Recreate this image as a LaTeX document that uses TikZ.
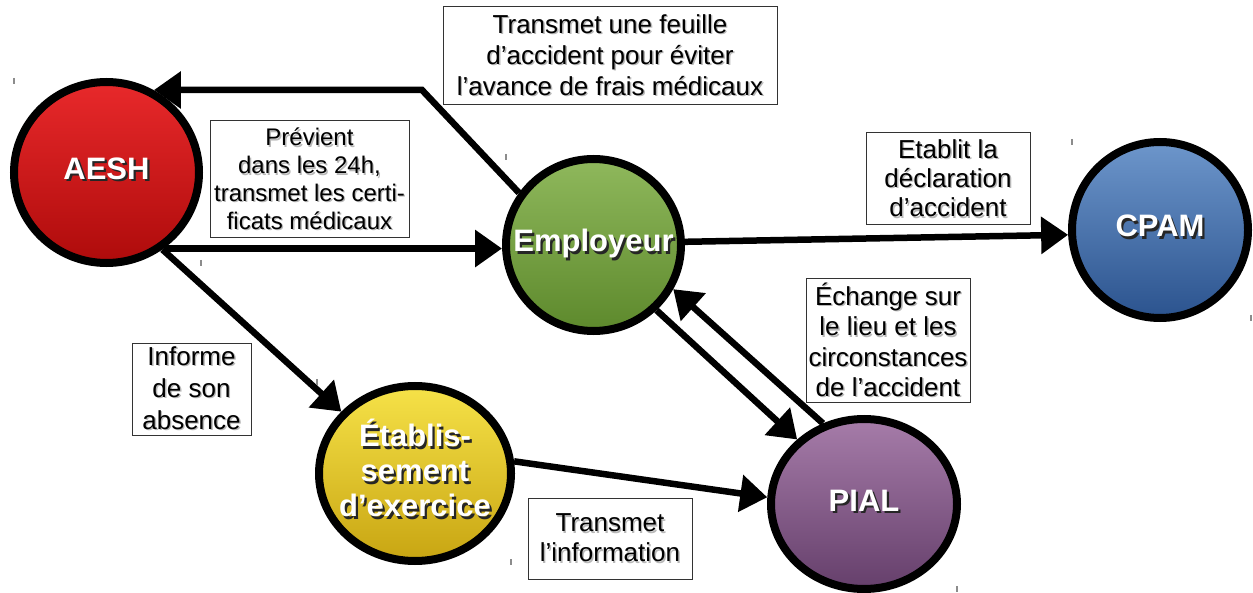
\documentclass[tikz,border=0pt]{standalone}
\usepackage{fontspec}
\setmainfont{Liberation Sans}
\usetikzlibrary{shapes.geometric,arrows.meta}
\definecolor{aeshA}{HTML}{E8292B}\definecolor{aeshB}{HTML}{AE0B0B}
\definecolor{empA}{HTML}{8FB85C}\definecolor{empB}{HTML}{5D892C}
\definecolor{cpamA}{HTML}{6D96CB}\definecolor{cpamB}{HTML}{2B538E}
\definecolor{etabA}{HTML}{F6E248}\definecolor{etabB}{HTML}{C8A512}
\definecolor{pialA}{HTML}{A67CA9}\definecolor{pialB}{HTML}{653F6B}
\newcommand\lsh[1]{\rlap{\kern0.7pt\raisebox{-0.7pt}{\color{black!28}#1}}#1}
\newcommand\csh[1]{\rlap{\kern1.1pt\raisebox{-1.1pt}{\color{black!85}#1}}#1}
\newcommand\ctext[1]{\makebox[0pt]{\begin{tabular}{@{}c@{}}#1\end{tabular}}}
\begin{document}
\begin{tikzpicture}[x=0.5pt,y=-0.5pt,
  circ/.style={ellipse, draw=black, line width=4pt, inner sep=0pt,
    shading=axis, shading angle=45, text=white,
    font=\bfseries\fontsize{15.5}{17.5}\selectfont},
  lbox/.style={draw=black!80, line width=0.5pt, fill=white, inner sep=0pt,
    align=center, font=\fontsize{13}{15.5}\selectfont},
  arr/.style={line width=3.25pt, -{Triangle[length=13.5pt,width=18pt]}},
  tick/.style={draw=black!45, line width=0.6pt}]
\useasboundingbox (0,0) rectangle (1253,593);
% nodes
\node[circ, top color=aeshA, bottom color=aeshB, minimum width=92.5pt, minimum height=90.5pt]
  (aesh) at (106.5,172.5) {\ctext{\csh{AESH}}};
\node[circ, top color=empA, bottom color=empB, minimum width=87.5pt, minimum height=86pt]
  (empl) at (593.5,245) {\ctext{\csh{Employeur}}};
\node[circ, top color=cpamA, bottom color=cpamB, minimum width=88pt, minimum height=88pt]
  (cpam) at (1160,230) {\ctext{\csh{CPAM}}};
\node[circ, top color=etabA, bottom color=etabB, minimum width=96pt, minimum height=87.5pt]
  (etab) at (415,473.5) {\ctext{\csh{Établis-}\\\csh{sement}\\\csh{d’exercice}}};
\node[circ, top color=pialA, bottom color=pialB, minimum width=93pt, minimum height=85pt]
  (pial) at (864,504) {\ctext{\csh{PIAL}}};
% label boxes
\node[lbox, minimum width=167pt, minimum height=49pt] (lbfeuille) at (610,56)
  {\lsh{Transmet une feuille}\\\lsh{d’accident pour éviter}\\\lsh{l’avance de frais médicaux}};
\node[lbox, minimum width=99.5pt, minimum height=58.5pt, font=\fontsize{12}{13.9}\selectfont] (lbprev) at (309.5,179.5)
  {\lsh{Prévient}\\\lsh{dans les 24h,}\\\lsh{transmet les certi-}\\\lsh{ficats médicaux}};
\node[lbox, minimum width=82pt, minimum height=46pt, font=\fontsize{13}{14.6}\selectfont] (lbdecl) at (948,179)
  {\lsh{Etablit la}\\\lsh{déclaration}\\\lsh{d’accident}};
\node[lbox, minimum width=82pt, minimum height=61.5pt, font=\fontsize{13}{15.2}\selectfont] (lbech) at (888,340.5)
  {\lsh{Échange sur}\\\lsh{le lieu et les}\\\lsh{circonstances}\\\lsh{de l’accident}};
\node[lbox, minimum width=59.5pt, minimum height=46pt, font=\fontsize{13}{16}\selectfont] (lbinf) at (191.5,389)
  {\lsh{Informe}\\\lsh{de son}\\\lsh{absence}};
\node[lbox, minimum width=82pt, minimum height=40.5pt, font=\fontsize{13}{15}\selectfont] (lbtrans) at (610,538.5)
  {\lsh{Transmet}\\\lsh{l’information}};
% connectors
\coordinate (bend) at (422,90);
\draw[arr] (empl.145) -- (bend) -- (bend -| aesh.60);
\draw[arr] (aesh.-53) -- (aesh.-53 -| empl.west);
\draw[arr] (aesh.-54) -- (etab.140);
\draw[arr] (empl.2.5) -- (cpam.183);
\draw[arr] (empl.-46) -- (pial.136);
\draw[arr] (pial.117) -- (empl.-29.5);
\draw[arr] (etab.7) -- (pial.176);
% small tick marks
\foreach \tx/\ty in {14/78, 201/260, 506/154, 1072/139, 1251/315, 317/379, 511/559, 957/586}
  \draw[tick] (\tx,\ty) -- ++(0,6);
\end{tikzpicture}
\end{document}
